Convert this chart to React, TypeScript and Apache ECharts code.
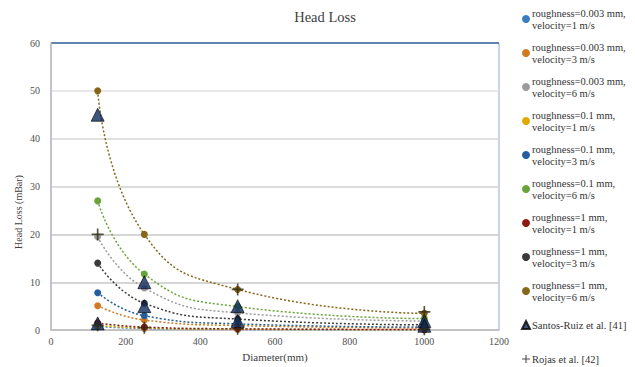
import React, { useEffect, useRef } from "react";
import * as echarts from "echarts";

const diameters = [125, 250, 500, 1000];

const seriesNames = [
  "roughness=0.003 mm,\nvelocity=1 m/s",
  "roughness=0.003 mm,\nvelocity=3 m/s",
  "roughness=0.003 mm,\nvelocity=6 m/s",
  "roughness=0.1 mm,\nvelocity=1 m/s",
  "roughness=0.1 mm,\nvelocity=3 m/s",
  "roughness=0.1 mm,\nvelocity=6 m/s",
  "roughness=1 mm,\nvelocity=1 m/s",
  "roughness=1 mm,\nvelocity=3 m/s",
  "roughness=1 mm,\nvelocity=6 m/s",
];

const r0003v1 = [0.75, 0.33, 0.15, 0.07];
const r0003v3 = [5.1, 2.1, 0.95, 0.45];
const r0003v6 = [19.5, 8.8, 3.6, 1.9];
const r01v1 = [1.0, 0.42, 0.18, 0.08];
const r01v3 = [7.8, 3.0, 1.3, 0.62];
const r01v6 = [27, 11.7, 4.9, 2.4];
const r1v1 = [1.5, 0.62, 0.27, 0.12];
const r1v3 = [14, 5.6, 2.3, 1.1];
const r1v6 = [50, 20, 8.5, 3.5];

const seriesValues = [r0003v1, r0003v3, r0003v6, r01v1, r01v3, r01v6, r1v1, r1v3, r1v6];

const seriesColors = [
  "#3C7DC0",
  "#D07A22",
  "#9C9C9C",
  "#E0A800",
  "#255E9E",
  "#6AA339",
  "#8B1A10",
  "#3A3A3A",
  "#86661A",
];

const santosName = "Santos-Ruiz et al. [41]";
const santosD = [125, 125, 250, 250, 500, 500, 1000, 1000];
const santosLoss = [45, 1.4, 10, 5, 5, 1.9, 1.9, 0.9];

const rojasName = "Rojas et al. [42]";
const rojasD = [125, 125, 250, 500, 500, 1000, 1000];
const rojasLoss = [20, 1.0, 0.5, 8.5, 0.3, 3.8, 0.2];

const xTicks = { min: 0, max: 1200, interval: 200 };
const yTicks = { min: 0, max: 60, interval: 10 };

const SERIF = "Liberation Serif, serif";
const CROSS = "path://M4.3,0h1.4v4.3h4.3v1.4h-4.3v4.3h-1.4v-4.3h-4.3v-1.4h4.3z";

const txt = (size: number, color: string) => ({
  fontFamily: SERIF,
  fontSize: size,
  fontWeight: "normal",
  fontStyle: "normal",
  color,
});

export default function App() {
  const ref = useRef<HTMLDivElement>(null);

  useEffect(() => {
    document.body.style.margin = "0";
    if (!ref.current) return;
    const chart = echarts.init(ref.current, undefined, { renderer: "svg" });

    const lineSeries = seriesNames.map((name, i) => ({
      name,
      type: "line",
      data: diameters.map((d, j) => [d, seriesValues[i][j]]),
      smooth: 0.5,
      symbol: "circle",
      symbolSize: 7,
      showSymbol: true,
      itemStyle: { color: seriesColors[i] },
      lineStyle: { color: seriesColors[i], width: 1.5, type: [2, 2] },
      z: 2 + i,
    }));

    const legendData: any[] = seriesNames.map((name) => ({ name }));
    legendData.push({
      name: santosName,
      icon: "triangle",
      itemStyle: { color: "#0F2A5C" },
      textStyle: { padding: [12, 0, 12, -3] },
    });
    legendData.push({
      name: rojasName,
      icon: CROSS,
      itemStyle: { color: "#222" },
      textStyle: { padding: [12, 0, 12, -3] },
    });

    const splitColors = ["#D0D0D0", "#C8C8C8", "#C8C8C8", "#D0D0D0", "#D6D6D6", "#E0E0E0", "#3E6A9B"];

    chart.setOption({
      animation: false,
      backgroundColor: "#ffffff",
      textStyle: { fontFamily: SERIF, fontWeight: "normal" },
      title: {
        text: "Head Loss",
        left: 320,
        textAlign: "center",
        top: 4,
        textStyle: txt(14.5, "#404040"),
      },
      legend: {
        orient: "vertical",
        left: 521,
        top: 1,
        height: 440,
        padding: 0,
        itemGap: -2,
        itemWidth: 8,
        itemHeight: 8,
        icon: "circle",
        data: legendData,
        textStyle: {
          ...txt(10.5, "#333333"),
          lineHeight: 12,
          padding: [12, 0, 0, -3],
        },
      },
      grid: {
        left: 51,
        right: 136,
        top: 43,
        bottom: 36,
        show: true,
        borderColor: "#8FA9D4",
        borderWidth: 1,
        backgroundColor: "transparent",
      },
      xAxis: {
        type: "value",
        min: xTicks.min,
        max: xTicks.max,
        interval: xTicks.interval,
        name: "Diameter(mm)",
        nameLocation: "middle",
        nameGap: 17,
        nameTextStyle: txt(11, "#404040"),
        axisLine: { show: true, lineStyle: { color: "#BFBFBF", width: 1.5 } },
        axisTick: { show: false },
        splitLine: { show: false },
        axisLabel: { ...txt(10, "#505050"), margin: 6, formatter: (v: number) => String(v) },
      },
      yAxis: {
        type: "value",
        min: yTicks.min,
        max: yTicks.max,
        interval: yTicks.interval,
        axisLine: { show: true, lineStyle: { color: "#BFBFBF", width: 1.5 } },
        axisTick: { show: false },
        splitLine: { show: true, lineStyle: { color: splitColors, width: 1.5 } },
        axisLabel: { ...txt(10, "#505050"), margin: 11, formatter: (v: number) => String(v) },
      },
      graphic: [
        {
          type: "text",
          x: 18,
          y: 212,
          rotation: Math.PI / 2,
          style: {
            text: "Head Loss (mBar)",
            fontFamily: SERIF,
            fontSize: 10,
            fill: "#404040",
            align: "center",
            verticalAlign: "middle",
          },
        },
      ],
      series: [
        ...lineSeries,
        {
          name: santosName,
          type: "scatter",
          data: santosD.map((d, i) => [d, santosLoss[i]]),
          symbol: "triangle",
          symbolSize: 13,
          itemStyle: { color: "#0F2A5C", borderColor: "#000000", borderWidth: 0.8 },
          z: 20,
        },
        {
          name: rojasName,
          type: "scatter",
          data: rojasD.map((d, i) => [d, rojasLoss[i]]),
          symbol: CROSS,
          symbolSize: 12,
          itemStyle: { color: "#2A2A10" },
          z: 21,
        },
      ],
    });

    return () => chart.dispose();
  }, []);

  return <div ref={ref} style={{ width: 635, height: 367 }} />;
}
